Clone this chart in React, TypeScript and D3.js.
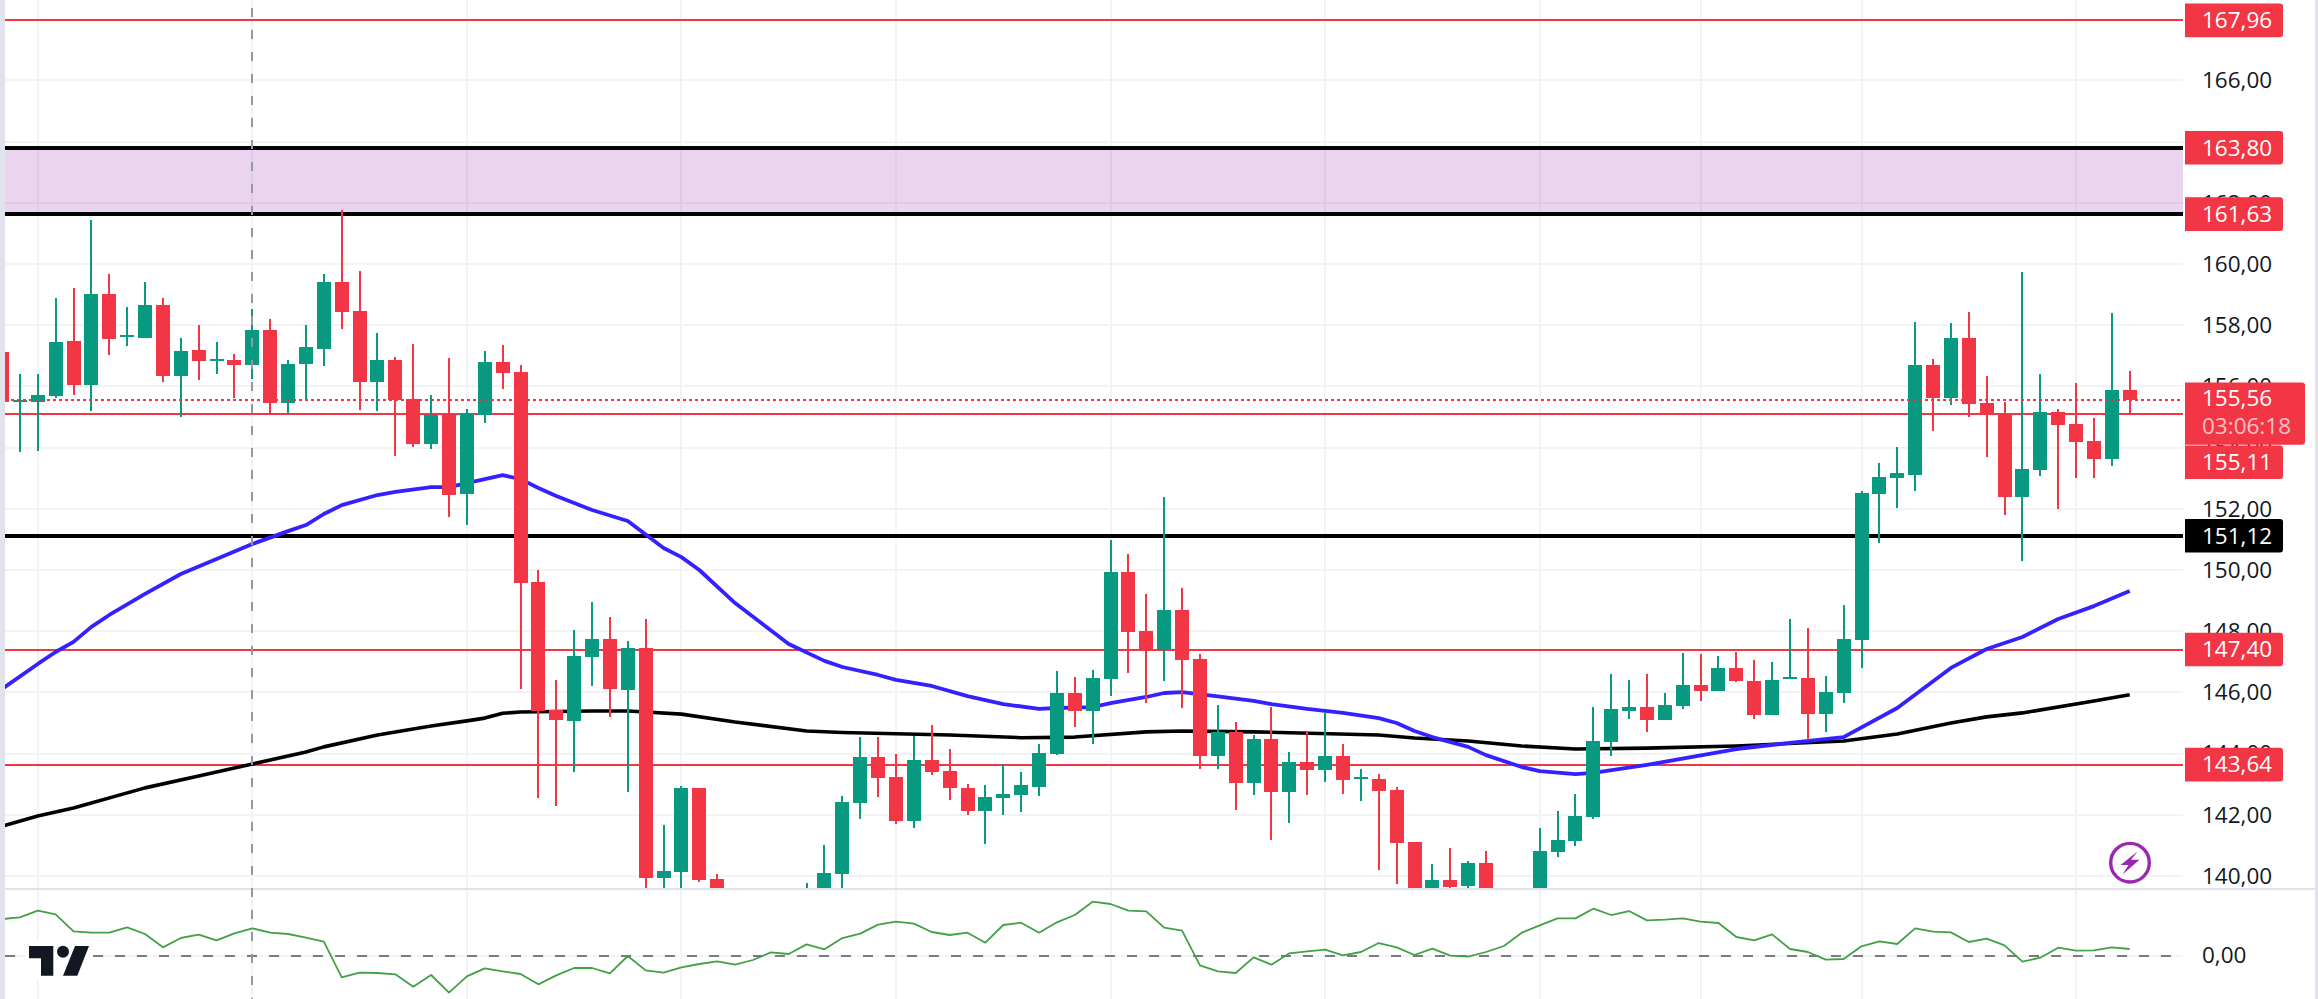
import React, { useEffect, useRef } from 'react';
import * as d3 from 'd3';

const opens = [
  157.12, 155.50, 155.50, 155.69, 157.48, 156.05, 159.02, 157.62, 157.58, 158.66,
  156.34, 157.19, 156.83, 156.86, 156.70, 157.84, 155.46, 156.73, 157.22, 159.41,
  158.46, 156.14, 156.86, 155.59, 154.12, 155.10, 152.48, 155.07, 156.80, 156.47,
  149.61, 145.42, 145.07, 147.15, 147.74, 146.08, 147.44, 139.95, 140.14, 142.87,
  139.90, 139.20, 138.60, 138.30, 138.60, 139.00, 139.30, 140.07, 142.39, 143.88,
  143.23, 141.80, 143.78, 143.43, 142.87, 142.12, 142.56, 142.66, 142.90, 143.99,
  145.97, 145.39, 146.44, 149.93, 148.00, 147.38, 148.69, 147.09, 143.92, 144.70,
  143.04, 144.48, 142.74, 143.72, 143.46, 143.92, 143.17, 143.17, 142.81, 141.11,
  139.30, 139.87, 139.67, 140.42, 139.30, 139.00, 139.30, 140.78, 141.14, 141.93,
  144.38, 145.39, 145.52, 145.10, 145.56, 146.24, 146.05, 146.80, 146.37, 145.26,
  146.44, 146.47, 145.30, 145.98, 147.71, 152.48, 153.01, 153.10, 156.70, 155.62,
  157.58, 155.46, 155.10, 152.39, 153.27, 155.16, 154.77, 154.22, 153.63, 155.88,
];
const highs = [
  157.12, 156.41, 156.41, 158.89, 159.22, 161.44, 159.67, 158.60, 159.41, 158.89,
  157.58, 158.01, 157.45, 157.06, 158.53, 158.20, 156.86, 158.01, 159.67, 161.76,
  159.77, 157.74, 156.96, 157.39, 155.72, 156.93, 155.26, 157.16, 157.35, 156.70,
  150.00, 146.41, 148.04, 148.95, 148.46, 147.67, 148.40, 141.68, 142.94, 142.87,
  140.05, 139.35, 138.90, 138.80, 139.10, 139.78, 141.00, 142.63, 144.53, 144.53,
  143.99, 144.56, 144.93, 144.14, 143.01, 142.96, 143.65, 143.39, 144.32, 146.70,
  146.49, 146.73, 150.98, 150.52, 149.21, 152.38, 149.41, 147.25, 145.59, 145.03,
  144.61, 145.53, 144.05, 144.70, 145.36, 144.31, 143.50, 143.33, 142.91, 141.11,
  140.39, 140.91, 140.49, 140.82, 139.40, 139.50, 141.57, 142.12, 142.68, 145.52,
  146.60, 146.40, 146.60, 145.97, 147.28, 147.26, 147.19, 147.32, 147.06, 147.00,
  148.40, 148.11, 146.54, 148.86, 152.58, 153.50, 154.02, 158.11, 156.90, 158.07,
  158.43, 156.34, 155.49, 159.74, 156.41, 155.26, 156.11, 154.97, 158.40, 156.50,
];
const lows = [
  155.50, 153.87, 153.90, 155.62, 155.72, 155.20, 157.03, 157.32, 157.58, 156.14,
  155.00, 156.21, 156.40, 155.62, 156.24, 155.10, 155.10, 155.56, 156.67, 157.87,
  155.23, 155.20, 153.73, 154.02, 153.95, 151.73, 151.47, 154.80, 155.92, 146.11,
  142.56, 142.30, 143.39, 146.22, 145.18, 142.75, 139.40, 139.40, 139.40, 139.80,
  139.10, 138.50, 138.10, 138.10, 138.40, 138.80, 139.10, 139.30, 141.85, 142.57,
  141.70, 141.56, 143.30, 142.48, 141.99, 141.04, 141.99, 142.09, 142.60, 143.96,
  144.87, 144.32, 145.88, 146.63, 145.65, 146.37, 145.49, 143.50, 143.50, 142.16,
  142.65, 141.18, 141.73, 142.65, 143.07, 142.68, 142.45, 140.19, 139.74, 139.10,
  139.10, 139.60, 139.60, 139.10, 138.80, 138.80, 139.10, 140.62, 140.98, 141.86,
  143.92, 145.13, 144.70, 145.10, 145.47, 145.72, 146.05, 146.34, 145.13, 145.26,
  146.44, 144.45, 144.71, 145.65, 146.80, 150.88, 152.03, 152.58, 154.54, 155.39,
  155.00, 153.69, 151.80, 150.30, 153.07, 152.00, 153.00, 153.00, 153.40, 155.10,
];
const closes = [
  155.50, 155.55, 155.72, 157.45, 156.05, 159.02, 157.55, 157.68, 158.66, 156.34,
  157.16, 156.83, 156.89, 156.70, 157.84, 155.46, 156.73, 157.29, 159.41, 158.43,
  156.14, 156.86, 155.56, 154.12, 155.07, 152.45, 155.10, 156.80, 156.44, 149.59,
  145.40, 145.10, 147.18, 147.74, 146.10, 147.44, 139.95, 140.16, 142.87, 139.86,
  139.20, 138.60, 138.30, 138.60, 138.90, 139.30, 140.09, 142.42, 143.88, 143.20,
  141.80, 143.78, 143.39, 142.87, 142.12, 142.57, 142.68, 142.96, 144.01, 145.97,
  145.39, 146.47, 149.93, 147.97, 147.38, 148.69, 147.06, 143.92, 144.70, 143.04,
  144.48, 142.74, 143.72, 143.46, 143.92, 143.14, 143.25, 142.78, 141.08, 139.30,
  139.87, 139.64, 140.42, 139.30, 139.00, 139.30, 140.82, 141.18, 141.96, 144.41,
  145.46, 145.52, 145.10, 145.59, 146.24, 146.05, 146.80, 146.37, 145.26, 146.41,
  146.50, 145.30, 146.01, 147.75, 152.52, 153.04, 153.17, 156.70, 155.62, 157.58,
  155.43, 155.10, 152.39, 153.30, 155.16, 154.74, 154.18, 153.63, 155.88, 155.56,
];

// moving averages, read at the candles where the curve bends
const fastMaIdx = [
  0, 2, 3, 4, 5, 6, 8, 10, 12, 14, 16, 17, 18, 19, 21, 22, 24, 25, 28, 29, 30, 31, 33, 35, 37, 38, 39, 41, 44, 46,
  47, 49, 50, 52, 54, 56, 58, 59, 61, 62, 64, 65, 66, 68, 70, 71, 73, 75, 77, 78, 79, 80, 82, 83, 85, 86, 88, 89,
  92, 97, 100, 103, 106, 109, 111, 113, 115, 117, 119,
];
const fastMaVals = [
  146.11, 146.93, 147.32, 147.65, 148.14, 148.53, 149.22, 149.87, 150.36, 150.85, 151.27, 151.47, 151.83, 152.12,
  152.45, 152.55, 152.71, 152.71, 153.10, 152.97, 152.68, 152.42, 151.96, 151.60, 150.72, 150.42, 150.00, 148.92,
  147.58, 147.03, 146.83, 146.57, 146.41, 146.21, 145.88, 145.62, 145.46, 145.49, 145.52, 145.65, 145.85, 145.98,
  146.01, 145.87, 145.72, 145.62, 145.46, 145.33, 145.16, 145.00, 144.74, 144.54, 144.22, 143.95, 143.56, 143.43,
  143.33, 143.37, 143.63, 144.15, 144.35, 144.54, 145.49, 146.80, 147.42, 147.81, 148.40, 148.82, 149.31,
];
const slowMaIdx = [
  0, 2, 4, 8, 11, 14, 17, 18, 21, 24, 26, 27, 28, 29, 33, 35, 36, 38, 41, 45, 47, 50, 53, 57, 60, 64, 66, 70, 77,
  79, 82, 85, 88, 92, 97, 103, 106, 109, 111, 113, 117, 119,
];
const slowMaVals = [
  141.63, 141.96, 142.22, 142.88, 143.27, 143.66, 144.05, 144.22, 144.61, 144.90, 145.07, 145.16, 145.32, 145.36,
  145.39, 145.39, 145.36, 145.29, 145.03, 144.74, 144.69, 144.65, 144.61, 144.52, 144.54, 144.71, 144.74, 144.71,
  144.61, 144.51, 144.41, 144.25, 144.15, 144.18, 144.25, 144.41, 144.64, 145.00, 145.20, 145.33, 145.72, 145.92,
];
const oscillator = [
  1.11, 1.16, 1.36, 1.25, 0.74, 0.70, 0.70, 0.86, 0.66, 0.26, 0.54, 0.64, 0.47, 0.68, 0.83, 0.70, 0.66, 0.55, 0.43, -0.64,
  -0.50, -0.51, -0.55, -0.92, -0.57, -1.10, -0.61, -0.37, -0.46, -0.54, -0.85, -0.58, -0.36, -0.36, -0.52, 0, -0.43, -0.50, -0.34, -0.24,
  -0.16, -0.26, -0.12, 0.11, 0.06, 0.35, 0.20, 0.54, 0.67, 0.94, 1.03, 0.97, 0.72, 0.63, 0.70, 0.40, 0.93, 1.00, 0.70, 1.01,
  1.23, 1.63, 1.56, 1.36, 1.34, 0.85, 0.76, -0.28, -0.46, -0.51, -0.04, -0.26, 0.08, 0.14, 0.19, 0.02, 0.12, 0.39, 0.26, 0.03,
  0.22, 0.01, -0.02, 0.12, 0.30, 0.70, 0.92, 1.13, 1.13, 1.42, 1.23, 1.35, 1.07, 1.09, 1.13, 1.03, 0.99, 0.57, 0.47, 0.65,
  0.21, 0.12, -0.11, -0.09, 0.29, 0.44, 0.36, 0.83, 0.73, 0.71, 0.42, 0.52, 0.32, -0.17, -0.05, 0.25, 0.16, 0.17, 0.26, 0.21,
];

const priceTicks = [140, 142, 144, 146, 148, 150, 152, 154, 156, 158, 160, 162, 164, 166];
const timeGridIdx = [2, 14, 26, 38, 50, 62, 74, 86, 95, 104, 116];
const redLevels = [167.96, 155.11, 147.40, 143.64];
const blackLevels = [163.80, 161.63, 151.12];
const zoneTop = 163.80;
const zoneBottom = 161.63;
const lastPrice = 155.56;
const countdown = '03:06:18';
const crosshairIdx = 14;

const RED = '#f23645';
const GREEN = '#089981';
const GRID = '#f3f3f5';
const BORDER = '#e0e3eb';
const TEXT = '#131722';
const FONT = '"Open Sans", sans-serif';
const paneLeft = 5;
const paneRight = 2183;
const labelLeft = 2185;
const textLeft = 2202;

const commaFormat = d3.formatLocale({ decimal: ',', thousands: '.', grouping: [3], currency: ['', ''] }).format('.2f');

function App() {
  const ref = useRef<SVGSVGElement>(null);

  useEffect(() => {
    const svg = d3.select(ref.current);
    svg.selectAll('*').remove();

    const x = d3.scaleLinear().domain([0, 119]).range([2, 2129.7]);
    const y = d3.scaleLinear().domain([140, 166]).range([876, 80.4]);
    const yOsc = d3.scaleLinear().domain([-1, 1]).range([956 + 33.33, 956 - 33.33]);

    const defs = svg.append('defs');
    defs.append('clipPath').attr('id', 'main-pane').append('rect')
      .attr('x', paneLeft).attr('y', 0).attr('width', paneRight - paneLeft).attr('height', 888);
    defs.append('clipPath').attr('id', 'osc-pane').append('rect')
      .attr('x', paneLeft).attr('y', 890).attr('width', paneRight - paneLeft).attr('height', 109);

    // grid
    const grid = svg.append('g').attr('shape-rendering', 'crispEdges').attr('stroke', GRID).attr('stroke-width', 2);
    grid.selectAll('.v').data(timeGridIdx).enter().append('line')
      .attr('x1', d => Math.round(x(d))).attr('x2', d => Math.round(x(d)))
      .attr('y1', 0).attr('y2', 999);
    grid.selectAll('.h').data(priceTicks).enter().append('line')
      .attr('x1', paneLeft).attr('x2', paneRight)
      .attr('y1', d => Math.round(y(d))).attr('y2', d => Math.round(y(d)));
    grid.append('line').attr('x1', paneLeft).attr('x2', paneRight).attr('y1', yOsc(0)).attr('y2', yOsc(0));

    const main = svg.append('g').attr('clip-path', 'url(#main-pane)');

    main.append('rect')
      .attr('x', paneLeft).attr('width', paneRight - paneLeft)
      .attr('y', y(zoneTop)).attr('height', y(zoneBottom) - y(zoneTop))
      .attr('fill', 'rgba(156,39,176,0.2)');

    main.selectAll('.red-level').data(redLevels).enter().append('line')
      .attr('x1', paneLeft).attr('x2', paneRight)
      .attr('y1', d => Math.round(y(d))).attr('y2', d => Math.round(y(d)))
      .attr('stroke', RED).attr('stroke-width', 2).attr('shape-rendering', 'crispEdges');
    main.selectAll('.black-level').data(blackLevels).enter().append('line')
      .attr('x1', paneLeft).attr('x2', paneRight)
      .attr('y1', d => Math.round(y(d))).attr('y2', d => Math.round(y(d)))
      .attr('stroke', '#000').attr('stroke-width', 4).attr('shape-rendering', 'crispEdges');

    // moving averages
    const slowLine = d3.line<number>().x(d => x(slowMaIdx[d])).y(d => y(slowMaVals[d]));
    const fastLine = d3.line<number>().x(d => x(fastMaIdx[d])).y(d => y(fastMaVals[d]));
    main.append('path').attr('d', slowLine(d3.range(slowMaIdx.length)))
      .attr('fill', 'none').attr('stroke', '#000').attr('stroke-width', 3.6).attr('stroke-linejoin', 'round');
    main.append('path').attr('d', fastLine(d3.range(fastMaIdx.length)))
      .attr('fill', 'none').attr('stroke', '#3322ff').attr('stroke-width', 3.8).attr('stroke-linejoin', 'round');

    // candles
    const candles = main.selectAll('.candle').data(d3.range(opens.length)).enter().append('g')
      .attr('fill', i => (closes[i] >= opens[i] ? GREEN : RED))
      .attr('shape-rendering', 'crispEdges');
    candles.append('rect')
      .attr('x', i => Math.round(x(i)) - 1).attr('width', 2)
      .attr('y', i => y(highs[i])).attr('height', i => y(lows[i]) - y(highs[i]));
    candles.append('rect')
      .attr('x', i => Math.round(x(i)) - 7).attr('width', 14)
      .attr('y', i => y(Math.max(opens[i], closes[i])))
      .attr('height', i => Math.max(2, Math.abs(y(opens[i]) - y(closes[i]))));

    main.append('line')
      .attr('x1', paneLeft).attr('x2', paneRight)
      .attr('y1', Math.round(y(lastPrice))).attr('y2', Math.round(y(lastPrice)))
      .attr('stroke', RED).attr('stroke-width', 2).attr('stroke-dasharray', '3 3').attr('shape-rendering', 'crispEdges');

    // separator and side strips
    svg.append('rect').attr('x', 0).attr('y', 888).attr('width', 2318).attr('height', 2).attr('fill', BORDER);
    svg.append('rect').attr('x', 0).attr('y', 0).attr('width', paneLeft).attr('height', 999).attr('fill', BORDER);
    svg.append('rect').attr('x', 2315).attr('y', 0).attr('width', 3).attr('height', 999).attr('fill', BORDER);

    // oscillator pane
    const osc = svg.append('g').attr('clip-path', 'url(#osc-pane)');
    osc.append('line')
      .attr('x1', paneLeft).attr('x2', paneRight).attr('y1', yOsc(0)).attr('y2', yOsc(0))
      .attr('stroke', '#787b86').attr('stroke-width', 2).attr('stroke-dasharray', '10 12');
    const oscLine = d3.line<number>().x((d, i) => x(i)).y(d => yOsc(d));
    osc.append('path').attr('d', oscLine(oscillator))
      .attr('fill', 'none').attr('stroke', '#43a047').attr('stroke-width', 1.8).attr('stroke-linejoin', 'round');

    // crosshair
    svg.append('line')
      .attr('x1', Math.round(x(crosshairIdx))).attr('x2', Math.round(x(crosshairIdx)))
      .attr('y1', 0).attr('y2', 999)
      .attr('stroke', '#9598a1').attr('stroke-width', 2)
      .attr('stroke-dasharray', '9 13').attr('stroke-dashoffset', 14);

    // logo
    const logo = svg.append('g').attr('fill', TEXT);
    logo.append('rect').attr('x', 25).attr('y', 940).attr('width', 68).attr('height', 40).attr('fill', '#fff');
    logo.append('path').attr('d', 'M29 946H53.3V975.7H41V958.3H29Z');
    logo.append('circle').attr('cx', 63).attr('cy', 951.7).attr('r', 6);
    logo.append('path').attr('d', 'M75 946H89L77.3 975.7H63Z');

    // purple badge
    const badge = svg.append('g');
    badge.append('circle').attr('cx', 2130).attr('cy', 862.7).attr('r', 19.3)
      .attr('fill', '#fff').attr('stroke', '#9c27b0').attr('stroke-width', 3.4);
    badge.append('path').attr('fill', '#9c27b0')
      .attr('d', 'M2137.5 851.5L2120.5 865H2128.5L2122.5 874.5L2139.5 859.8H2131Z');

    // price axis
    const axis = svg.append('g').attr('transform', `translate(${textLeft},0)`)
      .call(d3.axisRight(y).tickValues(priceTicks).tickSize(0).tickPadding(0).tickFormat(d => commaFormat(d as number)));
    axis.select('.domain').remove();
    axis.selectAll('text').attr('font-family', FONT).attr('font-size', 22.5).attr('fill', TEXT);

    svg.append('text')
      .attr('x', textLeft).attr('y', yOsc(0)).attr('dy', '0.32em')
      .attr('font-family', FONT).attr('font-size', 22.5).attr('fill', TEXT)
      .text(commaFormat(0));

    // price labels: a right-rounded tag, text on top
    const tag = (top: number, w: number, h: number, fill: string) => {
      const p = d3.path();
      p.moveTo(labelLeft, top);
      p.lineTo(labelLeft + w - 3, top);
      p.arcTo(labelLeft + w, top, labelLeft + w, top + 3, 3);
      p.lineTo(labelLeft + w, top + h - 3);
      p.arcTo(labelLeft + w, top + h, labelLeft + w - 3, top + h, 3);
      p.lineTo(labelLeft, top + h);
      p.closePath();
      svg.append('path').attr('d', p.toString()).attr('fill', fill);
    };
    const tagText = (cy: number, text: string, opacity = 1) => {
      svg.append('text')
        .attr('x', textLeft).attr('y', cy).attr('dy', '0.35em')
        .attr('font-family', FONT).attr('font-size', 22.5).attr('font-weight', 500)
        .attr('fill', '#fff').attr('fill-opacity', opacity)
        .text(text);
    };
    // 155,11 is pushed down by the last price tag
    const labelShift = (d: number) => (d === 155.11 ? 48.6 : 0);
    redLevels.forEach(d => {
      const cy = y(d) + labelShift(d);
      tag(cy - 16.8, 98, 33.6, RED);
      tagText(cy, commaFormat(d));
    });
    blackLevels.forEach(d => {
      const cy = y(d);
      tag(cy - 16.8, 98, 33.6, d === 151.12 ? '#000' : RED);
      tagText(cy, commaFormat(d));
    });
    const lastY = y(lastPrice);
    tag(lastY - 17.4, 120, 62.3, RED);
    tagText(lastY - 2, commaFormat(lastPrice));
    tagText(lastY + 26.5, countdown, 0.7);
  }, []);

  return (
    <svg
      ref={ref}
      width={2318}
      height={999}
      style={{ position: 'absolute', top: 0, left: 0, display: 'block', background: '#fff' }}
    />
  );
}

export default App;
